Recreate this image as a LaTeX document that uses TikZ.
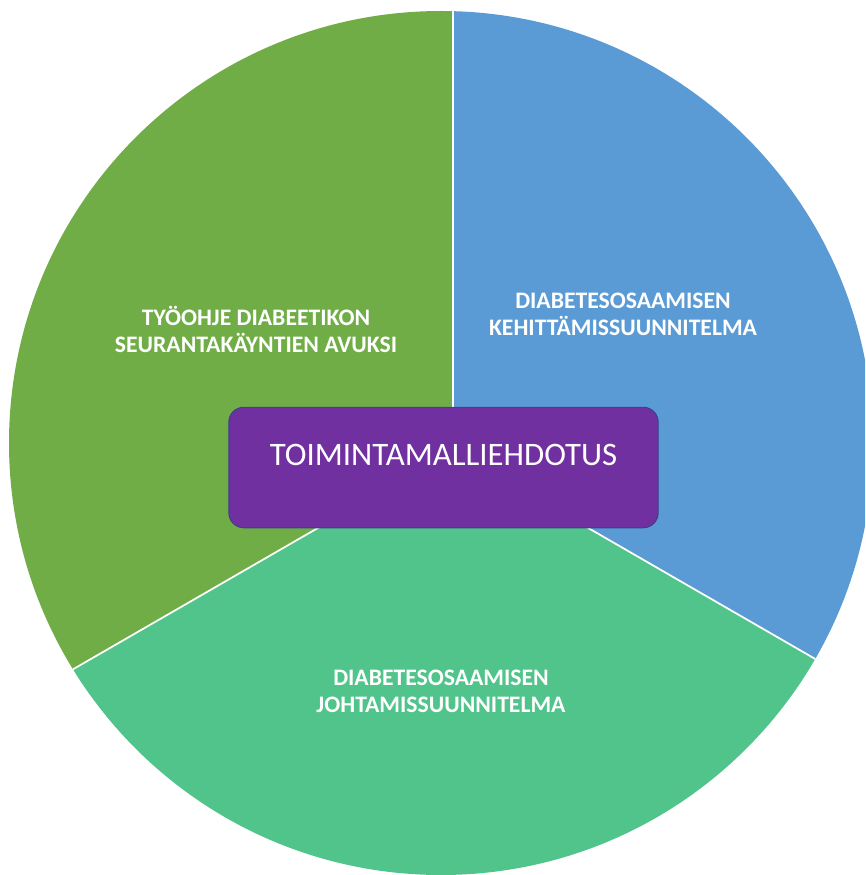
\documentclass[tikz,border=0pt]{standalone}
\usepackage{fontspec}
\setmainfont{Carlito}
\definecolor{pgreen}{HTML}{70AD47}
\definecolor{pblue}{HTML}{5B9BD5}
\definecolor{pmint}{HTML}{50C48B}
\definecolor{ppurple}{HTML}{7030A0}
\definecolor{pedge}{HTML}{3A3F8A}
\begin{document}
\begin{tikzpicture}[x=0.03cm,y=-0.03cm,
  slicelabel/.style={text=white,align=center,inner sep=0pt,
    font=\fontsize{20.2}{23}\selectfont\bfseries},
  sep/.style={white,line width=1.5pt},
  centerbox/.style={fill=ppurple,draw=pedge,line width=0.8pt,rounded corners=12.75pt,
    minimum width=366.5pt,minimum height=102.9pt,inner sep=0pt,
    text=white,font=\fontsize{28}{32}\selectfont,
    text height=17pt,text depth=21.25pt}]
\useasboundingbox (0,0) rectangle (865,875);
\clip (0,0) rectangle (865,875);
\coordinate (P) at (453,450);
\coordinate (O) at (441,443);
\coordinate (T) at (453,-200);
\coordinate (L) at (-500,1000);
\coordinate (R) at (1500,1054);
\begin{scope}
  \clip (O) circle [radius=432];
  \fill[pgreen] (P) -- (T) -- (-500,-200) -- (L) -- cycle;
  \fill[pblue] (P) -- (T) -- (1500,-200) -- (R) -- cycle;
  \fill[pmint] (P) -- (L) -- (-500,1500) -- (1500,1500) -- (R) -- cycle;
  \draw[sep] (P) -- (T);
  \draw[sep] (P) -- (L);
  \draw[sep] (P) -- (R);
\end{scope}
\node[slicelabel] (lg) at (256,329) {TYÖOHJE DIABEETIKON\\SEURANTAKÄYNTIEN AVUKSI};
\node[slicelabel] (lb) at (623,314.5) {DIABETESOSAAMISEN\\KEHITTÄMISSUUNNITELMA};
\node[slicelabel] (lm) at (441,691) {DIABETESOSAAMISEN\\JOHTAMISSUUNNITELMA};
\node[centerbox] (box) at (443.5,467.5) {TOIMINTAMALLIEHDOTUS};
\end{tikzpicture}
\end{document}
